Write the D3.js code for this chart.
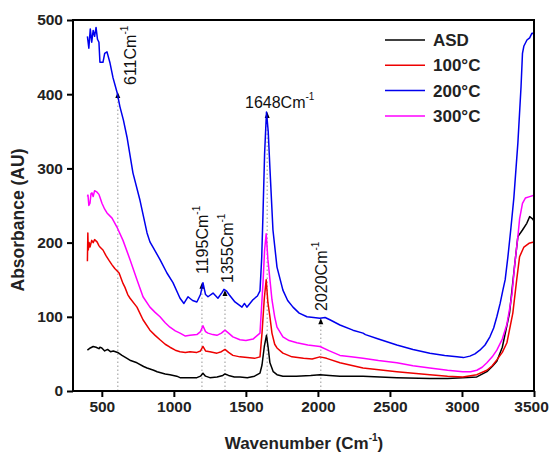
<!DOCTYPE html>
<html><head><meta charset="utf-8">
<script src="https://cdn.jsdelivr.net/npm/d3@7"></script>
<style>body{margin:0;background:#fff}svg{display:block}text{font-family:"Liberation Sans",Arial,sans-serif}</style>
</head><body><svg id="c" width="550" height="454"></svg>
<script>
// ---- data (wavenumber, absorbance) ----
const asd = [[400,55],[420,58],[440,60],[460,59],[480,57],[487,59],[500,58],[520,54],[540,56],[560,53],[580,54],[610,52],[640,48],[675,44],[700,41],[744,38],[790,33],[814,31],[860,28],[884,26],[940,23],[973,22],[1020,20],[1043,18],[1100,18],[1160,18],[1185,20],[1202,24],[1220,20],[1250,18],[1300,19],[1340,21],[1355,23],[1380,21],[1420,19],[1459,19],[1510,18],[1560,20],[1598,24],[1612,35],[1628,60],[1643,75],[1655,58],[1667,38],[1690,26],[1716,22],[1757,20],[1850,20],[1950,21],[2014,22],[2080,21],[2153,20],[2313,20],[2548,18],[2777,17],[2900,17],[3006,18],[3103,19],[3173,26],[3210,33],[3242,40],[3280,59],[3330,105],[3367,172],[3388,208],[3420,217],[3450,226],[3470,235],[3490,232],[3500,229]];
const c100 = [[400,175],[403,213],[406,190],[412,200],[418,194],[430,203],[440,200],[450,204],[467,201],[480,196],[487,194],[508,190],[530,182],[550,176],[571,170],[590,165],[620,159],[647,145],[660,140],[680,130],[696,125],[744,113],[786,96],[834,82],[870,75],[904,69],[940,63],[973,59],[1010,55],[1043,53],[1080,52],[1112,53],[1160,52],[1185,54],[1202,60],[1220,54],[1250,53],[1299,51],[1330,53],[1355,56],[1380,52],[1410,48],[1459,46],[1510,45],[1560,44],[1598,46],[1612,78],[1628,125],[1641,150],[1653,119],[1667,100],[1681,78],[1700,63],[1716,58],[1757,51],[1820,46],[1900,44],[1960,43],[2014,46],[2060,44],[2153,38],[2313,31],[2548,26],[2777,22],[2900,20],[3006,19],[3103,22],[3173,28],[3210,34],[3242,42],[3280,52],[3312,65],[3353,105],[3380,150],[3400,181],[3430,194],[3465,199],[3500,201]];
const c200 = [[400,478],[410,462],[420,488],[430,470],[440,486],[450,478],[460,490],[470,474],[480,470],[487,443],[508,443],[520,455],[536,457],[557,442],[578,422],[605,403],[626,383],[650,365],[675,342],[716,294],[765,257],[814,213],[834,201],[855,194],[904,177],[952,159],[994,146],[1043,125],[1070,118],[1098,127],[1130,122],[1160,120],[1185,130],[1202,146],[1220,130],[1237,127],[1272,132],[1306,125],[1335,133],[1348,137],[1365,135],[1383,130],[1424,120],[1459,115],[1473,113],[1490,118],[1507,113],[1549,123],[1580,128],[1598,135],[1610,180],[1619,240],[1630,320],[1643,376],[1655,350],[1667,300],[1688,217],[1716,167],[1757,136],[1790,122],[1827,113],[1870,105],[1924,100],[1970,99],[2014,98],[2050,99],[2083,96],[2153,89],[2243,82],[2313,78],[2330,76],[2420,70],[2548,62],[2660,56],[2777,51],[2880,48],[2965,46],[3010,45],[3055,47],[3090,50],[3124,55],[3160,62],[3194,73],[3220,85],[3242,100],[3265,118],[3284,136],[3300,150],[3319,181],[3340,220],[3360,260],[3388,334],[3410,410],[3420,455],[3430,465],[3451,473],[3470,476],[3485,482],[3495,482],[3500,478]];
const c300 = [[400,262],[404,264],[410,250],[418,253],[425,266],[432,267],[440,262],[450,270],[467,268],[480,265],[487,261],[501,253],[520,245],[536,240],[571,233],[605,221],[647,203],[696,177],[744,150],[786,127],[834,113],[870,106],[904,100],[940,92],[973,86],[1010,81],[1043,78],[1080,74],[1112,75],[1160,76],[1185,80],[1202,88],[1220,80],[1237,78],[1270,76],[1299,75],[1330,78],[1355,82],[1380,78],[1410,73],[1459,69],[1500,68],[1550,70],[1598,78],[1619,146],[1630,190],[1641,212],[1653,177],[1667,150],[1681,123],[1700,100],[1716,86],[1757,73],[1800,68],[1854,65],[1930,62],[2014,60],[2080,54],[2153,48],[2230,46],[2313,44],[2420,41],[2548,38],[2660,34],[2777,31],[2900,28],[3006,26],[3060,26],[3103,28],[3140,32],[3173,38],[3210,46],[3242,55],[3280,70],[3312,90],[3330,110],[3347,130],[3367,172],[3388,208],[3400,232],[3420,253],[3440,260],[3470,262],[3500,264]];

const seriesNames = ["ASD", "100°C", "200°C", "300°C"];
const seriesData = [asd, c100, c200, c300];
const seriesColors = ["#000000", "#ee0000", "#0000ee", "#ff00ff"];

const xTicks = [500, 1000, 1500, 2000, 2500, 3000, 3500];
const yTicks = [0, 100, 200, 300, 400, 500];

// peak annotations: wavenumber, absorbance at arrow tip, label
const peakWaves = [611, 1195, 1355, 1648, 2020];
const peakTips  = [403, 146, 136, 376, 98];
const peakLabels = ["611Cm", "1195Cm", "1355Cm", "1648Cm", "2020Cm"];

// ---- layout ----
const svg = d3.select("#c");
const L = 73, R = 534, T = 20, B = 391;
const x = d3.scaleLinear().domain([300, 3500]).range([L, R]);
const y = d3.scaleLinear().domain([0, 500]).range([B, T]);

svg.append("defs").append("clipPath").attr("id","clip")
  .append("rect").attr("x", L).attr("y", T).attr("width", R-L).attr("height", B-T);

// annotation dotted lines
const ann = svg.append("g");
peakWaves.forEach((w, i) => {
  ann.append("line").attr("x1", x(w)).attr("x2", x(w)).attr("y1", B).attr("y2", y(peakTips[i]) + 4)
    .attr("stroke", "#a8a8a8").attr("stroke-width", 1.2).attr("stroke-dasharray", "1.5,2.5");
});

// lines
const line = d3.line().x(d => x(d[0])).y(d => y(d[1])).curve(d3.curveLinear);
const g = svg.append("g").attr("clip-path", "url(#clip)");
seriesData.forEach((d, i) => {
  g.append("path").datum(d).attr("d", line).attr("fill", "none")
    .attr("stroke", seriesColors[i]).attr("stroke-width", 1.5).attr("stroke-linejoin", "round");
});

// arrow heads
peakWaves.forEach((w, i) => {
  const px = x(w), py = y(peakTips[i]);
  ann.append("path").attr("d", `M${px},${py} L${px-2.5},${py+6} L${px+2.5},${py+6} Z`).attr("fill", "#000");
});

// labels
const lab = svg.append("g").attr("clip-path", "url(#clip)").attr("font-size", 16).attr("fill", "#111");
const rotPos = {611: [136, 85], 1195: [208, 274], 1355: [233, 283], 2020: [327, 311]};
peakWaves.forEach((w, i) => {
  let t;
  if (w === 1648) {
    t = lab.append("text").attr("x", 245).attr("y", 108);
  } else {
    const p = rotPos[w];
    t = lab.append("text").attr("transform", `translate(${p[0]},${p[1]}) rotate(-90)`);
  }
  t.append("tspan").text(peakLabels[i]);
  t.append("tspan").attr("dy", -8).attr("font-size", 10).text("-1");
});

// axes
const xAxis = d3.axisBottom(x).tickValues(xTicks).tickFormat(d3.format("d")).tickSize(6).tickPadding(4);
const yAxis = d3.axisLeft(y).tickValues(yTicks).tickFormat(d3.format("d")).tickSize(6).tickPadding(4);
const gx = svg.append("g").attr("transform", `translate(0,${B})`).call(xAxis);
const gy = svg.append("g").attr("transform", `translate(${L},0)`).call(yAxis);
[gx, gy].forEach(a => {
  a.select(".domain").remove();
  a.selectAll("line").attr("stroke", "#000").attr("stroke-width", 2);
  a.selectAll("text").attr("font-size", 15.5).attr("font-weight", "bold").attr("fill", "#222")
    .attr("font-family", "'Liberation Sans', Arial, sans-serif");
});
gx.selectAll(".tick").filter(d => d === 3500).select("text").attr("dx", -3);
// frame
svg.append("rect").attr("x", L).attr("y", T).attr("width", R-L).attr("height", B-T)
  .attr("fill", "none").attr("stroke", "#000").attr("stroke-width", 2);

// axis titles
svg.append("text").attr("transform", `translate(24,220) rotate(-90)`).attr("text-anchor", "middle")
  .attr("font-size", 17.5).attr("font-weight", "bold").attr("fill", "#222").text("Absorbance (AU)");
const xt = svg.append("text").attr("x", 304).attr("y", 449).attr("text-anchor", "middle")
  .attr("font-size", 17).attr("font-weight", "bold").attr("fill", "#222");
xt.append("tspan").text("Wavenumber (Cm");
xt.append("tspan").attr("dy", -8).attr("font-size", 10).text("-1");
xt.append("tspan").attr("dy", 8).text(")");

// legend
const leg = svg.append("g");
seriesNames.forEach((n, i) => {
  const yy = 40 + i * 25.3;
  leg.append("line").attr("x1", 385).attr("x2", 425).attr("y1", yy).attr("y2", yy)
    .attr("stroke", seriesColors[i]).attr("stroke-width", 1.5);
  leg.append("text").attr("x", 433).attr("y", yy + 6).attr("font-size", 17).attr("font-weight", "bold")
    .attr("fill", "#222").text(n);
});
</script></body></html>
